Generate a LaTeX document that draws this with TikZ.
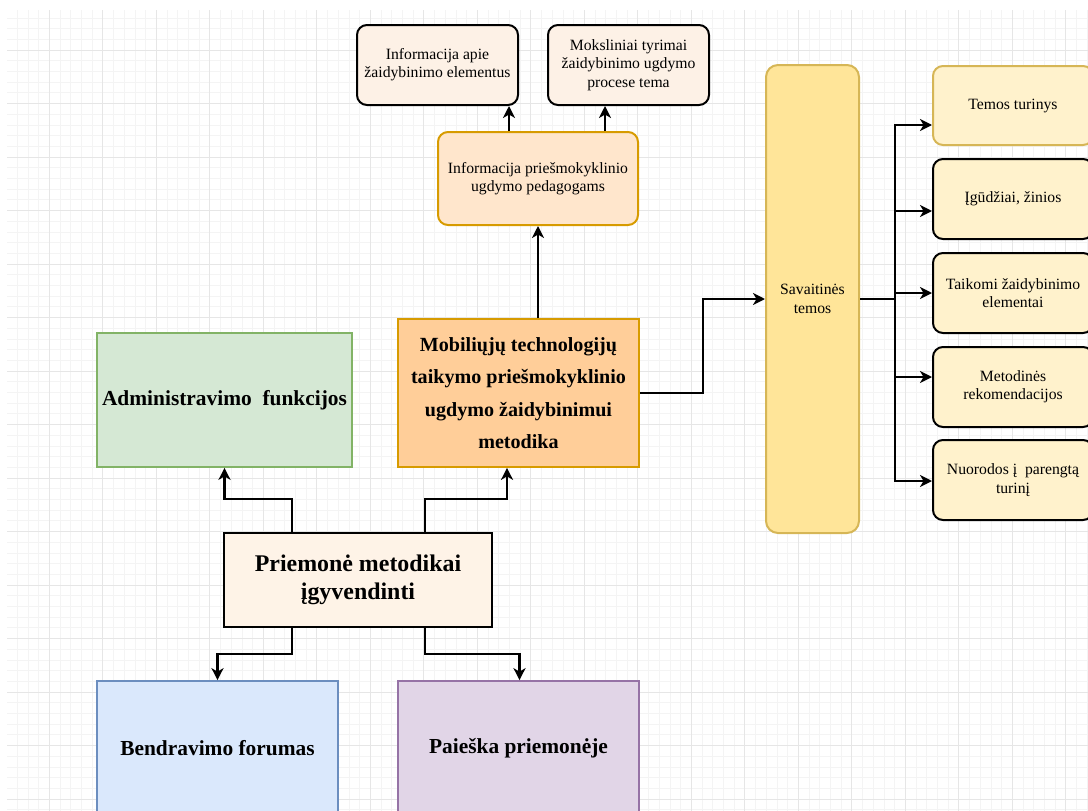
\documentclass[tikz,border=0pt]{standalone}
\usepackage{fontspec}
\setmainfont{Liberation Serif}
\usepackage{xcolor}
\usepackage{tikz}
\usetikzlibrary{
	arrows.meta,
	positioning
}
\definecolor{GridMinor}{RGB}{244,244,244}
\definecolor{GridMajor}{RGB}{230,230,230}
\definecolor{PeachFill}{RGB}{253,241,230}
\definecolor{PedFill}{RGB}{255,230,204}
\definecolor{OrangeLine}{RGB}{215,155,0}
\definecolor{OrangeFill}{RGB}{255,206,153}
\definecolor{GreenFill}{RGB}{213,232,212}
\definecolor{GreenLine}{RGB}{130,179,102}
\definecolor{BlueFill}{RGB}{218,232,252}
\definecolor{BlueLine}{RGB}{108,142,191}
\definecolor{VioletFill}{RGB}{225,213,231}
\definecolor{VioletLine}{RGB}{150,115,166}
\definecolor{YellowFill}{RGB}{255,229,153}
\definecolor{YellowLine}{RGB}{214,182,86}
\definecolor{LightYellow}{RGB}{255,242,204}
\definecolor{CreamFill}{RGB}{254,243,231}

\begin{document}
\begin{tikzpicture}[x=1pt, y=-1pt,
		small/.style={font=\fontsize{15.7}{18.3}\selectfont, align=center, inner sep=0pt},
		bigbold/.style={font=\fontsize{21.4}{26}\selectfont\bfseries, align=center, inner sep=0pt},
		rbox/.style={small, draw, line width=2pt, rounded corners=10pt},
		sqbox/.style={bigbold, draw, line width=1.7pt},
		arr/.style={-{Stealth[length=12pt, width=12pt, inset=3.5pt]}, line width=2.1pt}]
		\useasboundingbox (0,0) rectangle (1088,811);
		\clip (0,0) rectangle (1088,811);
		% grid
		\begin{scope}
			\clip (7,10) rectangle (1088,811);
			\foreach \k in {0,...,101} \draw[GridMinor, line width=0.8pt] ({6.5+10.7*\k},10) -- ++(0,801);
			\foreach \k in {0,...,75} \draw[GridMinor, line width=0.8pt] (7,{7.2+10.7*\k}) -- ++(1081,0);
			\foreach \k in {0,...,20} \draw[GridMajor, line width=1pt] ({49.3+53.5*\k},10) -- ++(0,801);
			\foreach \k in {0,...,15} \draw[GridMajor, line width=1pt] (7,{50+53.5*\k}) -- ++(1081,0);
		\end{scope}
		
		% upper information boxes
		\node[rbox, fill=PeachFill, minimum width=161pt, minimum height=80pt] (apie) at (437.5,65) {Informacija apie\\žaidybinimo elementus};
		\node[rbox, fill=PeachFill, minimum width=161pt, minimum height=80pt] (tyrimai) at (628.5,65) {Moksliniai tyrimai\\žaidybinimo ugdymo\\procese tema};
		\node[rbox, draw=OrangeLine, fill=PedFill, minimum width=200pt, minimum height=93pt] (ped) at (538,178.5) {Informacija priešmokyklinio\\ugdymo pedagogams};
		
		% main boxes
		\node[sqbox, draw=OrangeLine, fill=OrangeFill, minimum width=241pt, minimum height=148pt,
			font=\fontsize{20.1}{32.5}\selectfont\bfseries] (metodika) at (518.5,393)
			{Mobiliųjų technologijų\\taikymo priešmokyklinio\\ugdymo žaidybinimui\\metodika};
		\node[sqbox, draw=GreenLine, fill=GreenFill, minimum width=255pt, minimum height=134pt] (admin) at (224.5,400) {Administravimo~ funkcijos};
		\node[sqbox, draw=black, line width=2pt, fill=CreamFill, minimum width=268pt, minimum height=94pt,
			font=\fontsize{23.9}{28}\selectfont\bfseries] (priemone) at (358,580) {Priemonė metodikai\\įgyvendinti};
		\node[sqbox, draw=BlueLine, fill=BlueFill, minimum width=241pt, minimum height=134pt] (forumas) at (217.5,748) {Bendravimo forumas};
		\node[sqbox, draw=VioletLine, fill=VioletFill, minimum width=241pt, minimum height=134pt] (paieska) at (518.5,748) {Paieška priemonėje};
		
		% weekly topics
		\node[rbox, draw=YellowLine, fill=YellowFill, minimum width=93pt, minimum height=468pt, rounded corners=12pt] (temos) at (812.5,299) {Savaitinės\\temos};
		\node[rbox, draw=YellowLine, fill=LightYellow, minimum width=160pt, minimum height=79pt] (turinys) at (1013,105.5) {Temos turinys};
		\node[rbox, fill=LightYellow, minimum width=160pt, minimum height=80pt] (igudziai) at (1013,199) {Įgūdžiai, žinios};
		\node[rbox, fill=LightYellow, minimum width=160pt, minimum height=80pt] (taikomi) at (1013,293) {Taikomi žaidybinimo\\elementai};
		\node[rbox, fill=LightYellow, minimum width=160pt, minimum height=80pt] (rekom) at (1013,387) {Metodinės\\rekomendacijos};
		\node[rbox, fill=LightYellow, minimum width=160pt, minimum height=80pt] (nuorodos) at (1013,480) {Nuorodos į~ parengtą\\turinį};
		
		% connectors
		\draw[arr] ([xshift=-29pt]ped.north) -- ([xshift=-29pt]ped.north |- apie.south);
		\draw[arr] ([xshift=67pt]ped.north) -- ([xshift=67pt]ped.north |- tyrimai.south);
		\draw[arr] (metodika.north -| ped.south) -- (ped.south);
		\draw[arr] (metodika.east) -- ++(63,0) |- (temos.west);
		
		\draw[arr] ([xshift=-66pt]priemone.north) -- ++(0,-33) -| (admin.south);
		\draw[arr] ([xshift=67pt]priemone.north) -- ++(0,-33) -| ([xshift=-11.5pt]metodika.south);
		\draw[arr] ([xshift=-66pt]priemone.south) -- ++(0,26) -| (forumas.north);
		\draw[arr] ([xshift=67pt]priemone.south) -- ++(0,26) -| ([xshift=1pt]paieska.north);
		
		\coordinate (hub) at (895,299);
		\draw[line width=2.1pt] (temos.east) -- (hub);
		\draw[arr] (hub) |- ([yshift=-19.5pt]turinys.west);
		\draw[arr] (hub) |- ([yshift=-12pt]igudziai.west);
		\draw[arr] (hub) |- (taikomi.west);
		\draw[arr] (hub) |- ([yshift=10pt]rekom.west);
		\draw[arr] (hub) |- ([yshift=-1pt]nuorodos.west);
	\end{tikzpicture}
\end{document}
